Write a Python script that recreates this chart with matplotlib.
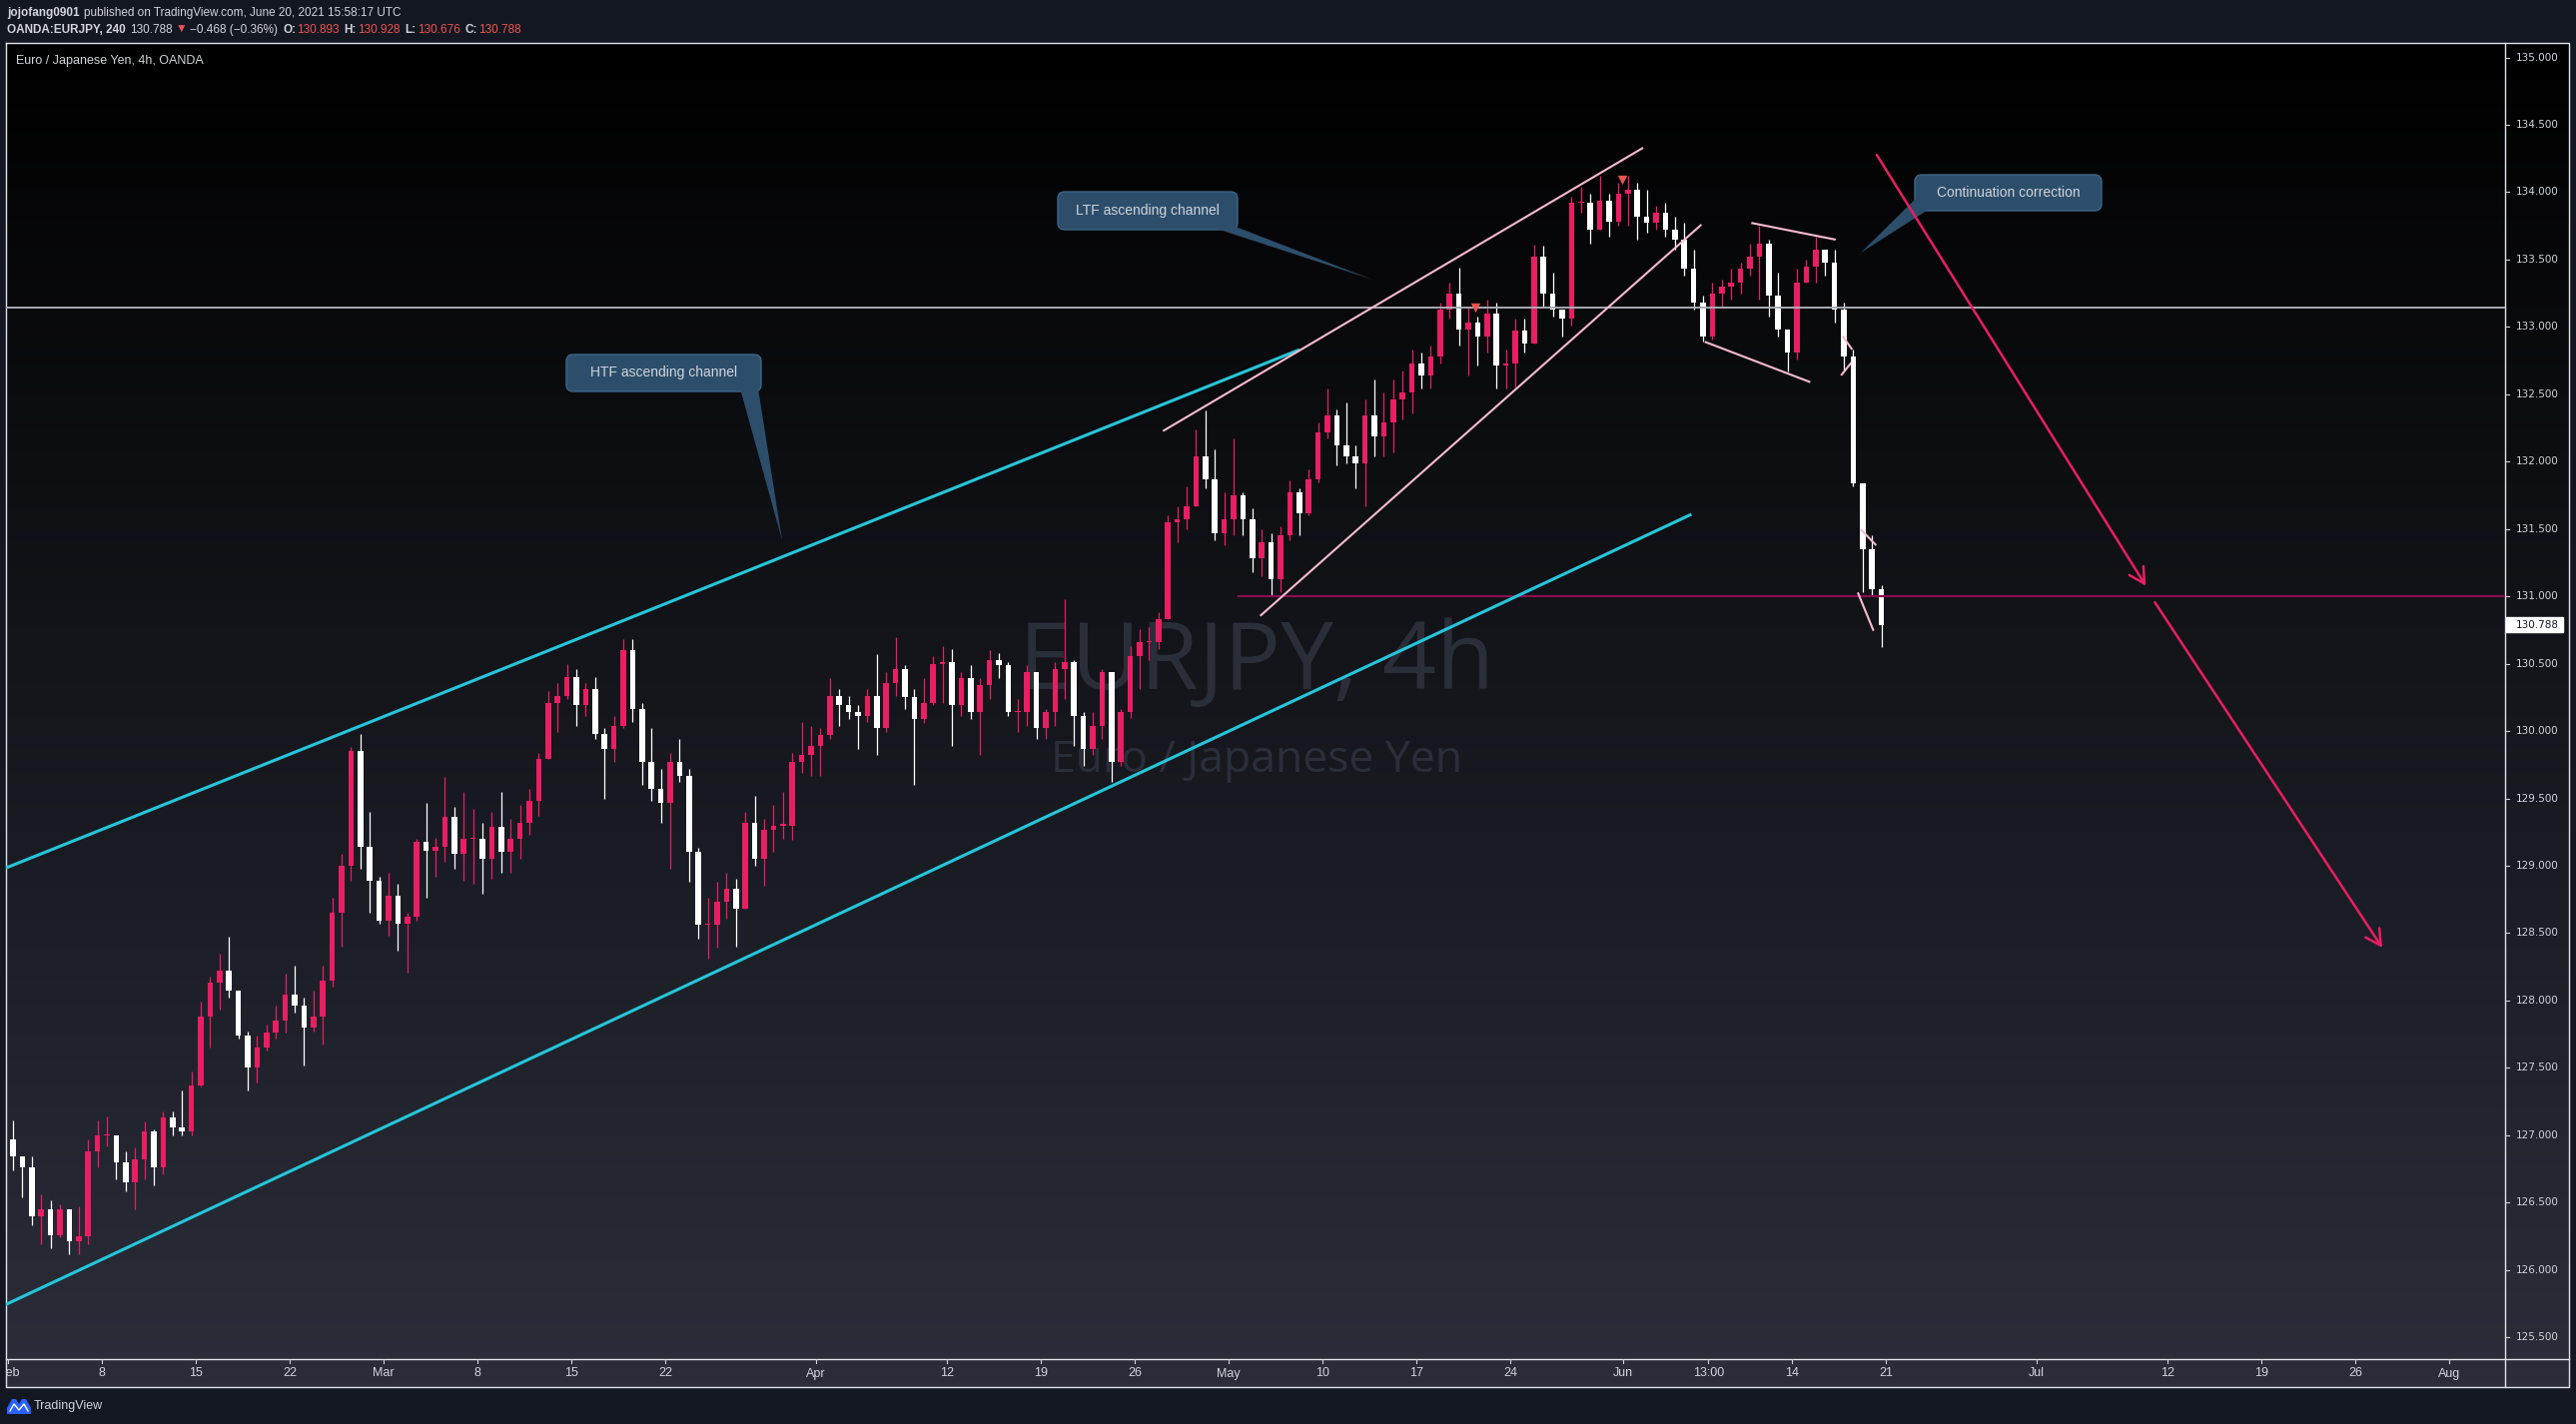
import numpy as np
import matplotlib
matplotlib.use("Agg")
import matplotlib.pyplot as plt
from matplotlib.patches import Polygon, FancyBboxPatch, Rectangle

W, H, DPI = 2579, 1426, 100

# EURJPY, 12h bars, Feb 1 - Jun 18 2021 (x axis = trading days since Feb 1)
first_open = 126.97
close = [
    126.84, 126.76, 126.40, 126.45, 126.26, 126.45, 126.21, 126.25, 126.88, 127.00,
    127.00, 126.80, 126.65, 126.82, 127.03, 126.76, 127.13, 127.06, 127.03, 127.37,
    127.88, 128.13, 128.22, 128.07, 127.74, 127.50, 127.65, 127.76, 127.85, 128.04,
    127.96, 127.80, 127.88, 128.15, 128.65, 129.00, 129.85, 129.14, 128.89, 128.59,
    128.78, 128.57, 128.62, 129.18, 129.11, 129.14, 129.36, 129.09, 129.20, 129.20,
    129.05, 129.29, 129.10, 129.20, 129.32, 129.48, 129.79, 130.21, 130.26, 130.40,
    130.19, 130.31, 129.98, 129.87, 130.04, 130.60, 130.16, 129.77, 129.57, 129.47,
    129.77, 129.67, 129.10, 128.56, 128.56, 128.73, 128.83, 128.68, 129.32, 129.05,
    129.27, 129.30, 129.30, 129.77, 129.82, 129.89, 129.97, 130.26, 130.19, 130.14,
    130.11, 130.26, 130.02, 130.36, 130.46, 130.25, 130.09, 130.21, 130.50, 130.51,
    130.19, 130.39, 130.14, 130.34, 130.53, 130.49, 130.14, 130.14, 130.44, 130.02,
    130.14, 130.46, 130.51, 130.11, 129.87, 130.04, 130.44, 129.77, 130.14, 130.56,
    130.66, 130.66, 130.83, 131.55, 131.57, 131.67, 132.04, 131.87, 131.47, 131.57,
    131.75, 131.57, 131.28, 131.40, 131.13, 131.45, 131.77, 131.62, 131.87, 132.22,
    132.34, 132.12, 132.04, 131.99, 132.34, 132.19, 132.29, 132.46, 132.51, 132.73,
    132.64, 132.78, 133.13, 133.25, 132.98, 133.03, 132.93, 133.10, 132.71, 132.73,
    132.97, 132.88, 133.52, 133.25, 133.13, 133.06, 133.92, 133.92, 133.72, 133.94,
    133.78, 133.99, 134.02, 133.82, 133.77, 133.85, 133.72, 133.65, 133.43, 133.18,
    132.93, 133.25, 133.30, 133.33, 133.43, 133.52, 133.62, 133.23, 132.98, 132.81,
    133.33, 133.45, 133.57, 133.48, 133.13, 132.78, 131.84, 131.35, 131.05, 130.79,
]
high = [
    127.11, 126.84, 126.84, 126.56, 126.52, 126.49, 126.45, 126.47, 126.97, 127.11,
    127.14, 127.00, 126.88, 126.91, 127.10, 127.04, 127.18, 127.18, 127.33, 127.47,
    127.99, 128.18, 128.35, 128.47, 128.07, 127.77, 127.74, 127.82, 127.96, 128.20,
    128.26, 128.02, 128.07, 128.26, 128.76, 129.09, 129.88, 129.98, 129.40, 128.92,
    128.95, 128.87, 128.65, 129.20, 129.47, 129.21, 129.66, 129.44, 129.55, 129.42,
    129.32, 129.40, 129.55, 129.35, 129.45, 129.57, 129.84, 130.30, 130.36, 130.50,
    130.46, 130.36, 130.40, 130.02, 130.11, 130.68, 130.68, 130.21, 130.02, 129.72,
    129.84, 129.94, 129.72, 129.13, 128.76, 128.88, 128.95, 128.90, 129.40, 129.52,
    129.35, 129.45, 129.55, 129.84, 130.07, 130.04, 130.02, 130.39, 130.31, 130.26,
    130.19, 130.31, 130.57, 130.44, 130.70, 130.49, 130.31, 130.39, 130.56, 130.63,
    130.61, 130.44, 130.49, 130.39, 130.60, 130.58, 130.51, 130.24, 130.49, 130.44,
    130.16, 130.51, 130.98, 130.53, 130.14, 130.14, 130.46, 130.44, 130.16, 130.63,
    130.76, 130.77, 130.88, 131.60, 131.67, 131.82, 132.24, 132.38, 132.09, 131.77,
    132.17, 131.77, 131.65, 131.50, 131.47, 131.52, 131.86, 131.80, 131.94, 132.29,
    132.54, 132.39, 132.44, 132.12, 132.46, 132.61, 132.51, 132.61, 132.68, 132.83,
    132.81, 132.86, 133.18, 133.33, 133.44, 133.15, 133.08, 133.20, 133.18, 132.83,
    133.06, 133.06, 133.61, 133.60, 133.40, 133.13, 133.97, 134.04, 133.99, 134.12,
    133.99, 134.07, 134.12, 134.07, 134.02, 133.90, 133.92, 133.82, 133.77, 133.57,
    133.23, 133.33, 133.35, 133.43, 133.48, 133.62, 133.75, 133.65, 133.40, 132.98,
    133.43, 133.50, 133.67, 133.57, 133.57, 133.18, 132.83, 131.84, 131.45, 131.08,
]
low = [
    126.74, 126.54, 126.33, 126.19, 126.16, 126.24, 126.12, 126.12, 126.19, 126.76,
    126.92, 126.67, 126.58, 126.45, 126.67, 126.63, 126.71, 127.00, 127.00, 127.00,
    127.36, 127.65, 127.93, 128.02, 127.72, 127.33, 127.39, 127.63, 127.72, 127.76,
    127.91, 127.52, 127.77, 127.67, 128.10, 128.40, 128.89, 128.98, 128.65, 128.57,
    128.48, 128.37, 128.21, 128.59, 128.76, 128.92, 129.03, 128.98, 128.89, 128.87,
    128.79, 128.90, 128.95, 128.95, 129.05, 129.23, 129.37, 129.79, 129.99, 130.24,
    130.04, 130.11, 129.94, 129.50, 129.77, 130.02, 130.07, 129.60, 129.48, 129.32,
    128.98, 129.62, 128.88, 128.46, 128.31, 128.39, 128.61, 128.40, 128.68, 129.00,
    128.85, 129.10, 129.20, 129.19, 129.69, 129.67, 129.67, 129.94, 130.04, 130.09,
    129.87, 130.07, 129.82, 129.99, 130.26, 130.16, 129.60, 130.06, 130.19, 130.21,
    129.89, 130.11, 130.09, 129.82, 130.24, 130.39, 130.11, 129.99, 130.04, 129.94,
    129.94, 130.04, 130.24, 129.89, 129.74, 129.82, 129.94, 129.62, 129.74, 130.10,
    130.31, 130.53, 130.61, 130.83, 131.40, 131.50, 131.67, 131.80, 131.42, 131.38,
    131.45, 131.45, 131.18, 131.15, 131.00, 131.03, 131.42, 131.45, 131.60, 131.85,
    132.17, 131.97, 131.99, 131.80, 131.67, 132.04, 132.04, 132.07, 132.31, 132.36,
    132.54, 132.54, 132.73, 133.06, 132.86, 132.64, 132.71, 132.81, 132.54, 132.54,
    132.56, 132.81, 132.88, 133.15, 133.08, 132.93, 133.01, 133.85, 133.62, 133.72,
    133.67, 133.75, 133.75, 133.65, 133.70, 133.72, 133.67, 133.57, 133.38, 133.13,
    132.89, 132.91, 133.15, 133.20, 133.25, 133.38, 133.20, 133.08, 132.93, 132.67,
    132.76, 133.33, 133.33, 133.38, 133.03, 132.68, 131.82, 131.03, 131.00, 130.62,
]

price_ticks = [125.5 + 0.5 * i for i in range(20)]
time_ticks = [0, 5, 10, 15, 20, 25, 30, 35, 43, 50, 55, 60, 65, 70, 75, 80,
              86, 90.54, 95, 100, 108, 115, 120, 125, 130]
time_labels = ["Feb", "8", "15", "22", "Mar", "8", "15", "22", "Apr", "12", "19", "26",
               "May", "10", "17", "24", "Jun", "13:00", "14", "21", "Jul", "12", "19", "26", "Aug"]

last_ohlc = [130.893, 130.928, 130.676, 130.788]
last_change = "\u22120.468 (\u22120.36%)"
gray_level = 133.14
support_level = 131.0
support_from = 65.5

# drawings: (trading day, price)
htf_upper = [(-0.5, 128.963), (68.76, 132.831)]
htf_lower = [(-0.5, 125.719), (89.63, 131.609)]
ltf_upper = [(61.49, 132.227), (87.06, 134.330)]
ltf_lower = [(66.67, 130.855), (90.16, 133.759)]
flag_lines = [
    [(92.82, 133.772), (97.31, 133.648)],
    [(90.34, 132.890), (95.96, 132.590)],
    [(97.69, 132.931), (98.19, 132.832)],
    [(97.60, 132.640), (98.14, 132.734)],
    [(98.64, 131.498), (99.47, 131.379)],
    [(98.49, 131.029), (99.33, 130.744)],
]
arrows = [
    [(99.5, 134.277), (113.83, 131.078)],
    [(114.31, 130.956), (126.42, 128.392)],
]
flag_marks_x = [78.12, 85.92]
flag_marks_y = [133.14, 134.09]

BG = "#131722"
TXT = "#d1d4dc"
UP = "#e91e63"
DOWN = "#ffffff"
CYAN = "#26c6da"
PINK = "#f8bbd0"
RED = "#ef5350"
FONT = ["Liberation Sans", "DejaVu Sans"]

fig = plt.figure(figsize=(W / DPI, H / DPI), dpi=DPI, facecolor=BG)


def rect(l, t, r, b):
    return [l / W, 1 - b / H, (r - l) / W, (b - t) / H]


# gradient background of the chart frame
bg = fig.add_axes(rect(6, 43, 2572, 1389), zorder=0)
grad = np.linspace(0, 1, 256)[:, None, None] * np.array([43, 46, 58]) / 255
bg.imshow(np.repeat(grad, 2, axis=1), aspect="auto", extent=(0, 1, 0, 1), origin="upper")
bg.set_axis_off()

# watermark
fig.text((1258) / W, 1 - 690 / H, "EURJPY, 4h", color="#2a2e39", fontsize=68,
         ha="center", va="baseline", family=["Open Sans", "DejaVu Sans"], zorder=1)
fig.text((1258) / W, 1 - 773 / H, "Euro / Japanese Yen", color="#2a2e39", fontsize=32,
         ha="center", va="baseline", family=["Open Sans", "DejaVu Sans"], zorder=1)

# main chart
ax = fig.add_axes(rect(6, 43, 2508, 1361), zorder=2)
ax.set_xlim(-0.12, 132.96)
ax.set_ylim(125.338, 135.108)
ax.set_axis_off()

c = np.array(close)
o = np.r_[first_open, c[:-1]]
x = 0.5 * np.arange(len(c)) + 0.25
col = np.where(c >= o, UP, DOWN)
ax.vlines(x, low, high, colors=col, lw=0.9, zorder=3)
ax.bar(x, np.maximum(np.abs(c - o), 0.008), bottom=np.minimum(o, c), width=0.3,
       color=col, linewidth=0, zorder=4)


def seg(pts, color, lw):
    (x0, y0), (x1, y1) = pts
    ax.plot([x0, x1], [y0, y1], color=color, lw=lw, solid_capstyle="butt", zorder=5)


ax.axhline(gray_level, color="#a8abb3", lw=1.4, zorder=5)
ax.plot([support_from, 140], [support_level, support_level], color="#880e4f", lw=1.6, zorder=5)
seg(htf_upper, CYAN, 2.2)
seg(htf_lower, CYAN, 2.2)
seg(ltf_upper, PINK, 1.5)
seg(ltf_lower, PINK, 1.5)
for f in flag_lines:
    seg(f, PINK, 1.5)
for a in arrows:
    ax.annotate("", xy=a[1], xytext=a[0],
                arrowprops=dict(arrowstyle="->,head_length=0.55,head_width=0.3", color=UP,
                                lw=1.8, mutation_scale=20, shrinkA=0, shrinkB=0), zorder=6)
ax.scatter(flag_marks_x, flag_marks_y, marker="v", s=45, color=RED, zorder=6, linewidths=0)

# price scale
pax = fig.add_axes(rect(2508, 43, 2572, 1361), zorder=2)
pax.set_xlim(0, 64)
pax.set_ylim(ax.get_ylim())
pax.set_axis_off()
for p in price_ticks:
    pax.plot([0, 4], [p, p], color=TXT, lw=0.8)
    pax.text(11, p, f"{p:.3f}", color=TXT, fontsize=7.5, va="center", ha="left",
             family="DejaVu Sans")
pax.add_patch(Rectangle((1, last_ohlc[3] - 0.055), 57, 0.11, color="white", zorder=3))
pax.text(11, last_ohlc[3], f"{last_ohlc[3]:.3f}", color=BG, fontsize=7.5, va="center",
         ha="left", family="DejaVu Sans", zorder=4)

# time scale
tax = fig.add_axes(rect(6, 1361, 2508, 1389), zorder=2)
tax.set_xlim(ax.get_xlim())
tax.set_ylim(28, 0)
tax.set_axis_off()
for t, lab in zip(time_ticks, time_labels):
    tax.plot([t, t], [0, 4], color=TXT, lw=0.8)
    tax.text(t, 14.5, lab, color=TXT, fontsize=9, ha="center", va="center",
             family=FONT, clip_on=True)

# overlay in pixel units: frame, header, callouts
ov = fig.add_axes([0, 0, 1, 1], zorder=1.5)
ov.set_xlim(0, W)
ov.set_ylim(H, 0)
ov.set_axis_off()

frame = "#e0e3eb"
ov.plot([6, 2572, 2572, 6, 6], [43, 43, 1389, 1389, 43], color=frame, lw=1.0)
ov.plot([2508, 2508], [43, 1389], color=frame, lw=1.0)
ov.plot([6, 2572], [1361, 1361], color=frame, lw=1.0)

renderer = fig.canvas.get_renderer()


def runs(x0, y0, parts, size):
    xx = x0
    for s, color, weight, gap in parts:
        t = ov.text(xx, y0, s, color=color, fontsize=size, fontweight=weight,
                    family=FONT, va="center", ha="left")
        xx += t.get_window_extent(renderer=renderer).width + gap


runs(7, 13, [("jojofang0901", TXT, "bold", 4),
             ("published on TradingView.com, June 20, 2021 15:58:17 UTC", TXT, "normal", 0)], 8.5)
runs(7, 30, [("OANDA:EURJPY, 240", TXT, "bold", 4),
             (f"{last_ohlc[3]:.3f}", TXT, "normal", 3),
             ("\u25bc", RED, "normal", 3),
             (last_change, TXT, "normal", 5),
             ("O:", TXT, "bold", 1), (f"{last_ohlc[0]:.3f}", RED, "normal", 5),
             ("H:", TXT, "bold", 1), (f"{last_ohlc[1]:.3f}", RED, "normal", 5),
             ("L:", TXT, "bold", 1), (f"{last_ohlc[2]:.3f}", RED, "normal", 5),
             ("C:", TXT, "bold", 1), (f"{last_ohlc[3]:.3f}", RED, "normal", 0)], 8.5)
ov.text(16, 61, "Euro / Japanese Yen, 4h, OANDA", color=TXT, fontsize=9, va="center",
        ha="left", family=FONT)

CALL_FC = "#2c4e6b"
CALL_EC = "#3d6688"
callouts = [
    ("HTF ascending channel", (567, 355, 762, 392), [(741, 389), (759, 389), (783, 541)]),
    ("LTF ascending channel", (1059, 192, 1239, 230), [(1212, 227), (1237, 227), (1374, 280)]),
    ("Continuation correction", (1917, 175, 2104, 211), [(1920, 197), (1932, 209), (1863, 253)]),
]
for label, (l, t, r, b), wedge in callouts:
    ov.add_patch(FancyBboxPatch((l, t), r - l, b - t, boxstyle="round,pad=0,rounding_size=7",
                                facecolor=CALL_FC, edgecolor=CALL_EC, lw=1.0, zorder=6))
    ov.add_patch(Polygon(wedge, closed=True, facecolor=CALL_FC, edgecolor="none", zorder=7))
    ov.text((l + r) / 2, (t + b) / 2, label, color=TXT, fontsize=10, ha="center",
            va="center", family=FONT, zorder=8)

# TradingView logo
ov.add_patch(Polygon([(7, 1416), (7, 1410), (12, 1401), (16, 1401), (19, 1406), (22, 1401),
                      (26, 1401), (31, 1410), (31, 1416)], closed=True, facecolor="#2962ff",
                     edgecolor="none"))
ov.plot([10, 14, 19, 24, 28], [1413, 1406, 1412, 1406, 1413], color="white", lw=1.0)
ov.text(34, 1408, "TradingView", color=TXT, fontsize=9, va="center", ha="left", family=FONT)

fig.savefig("out.png", dpi=DPI, facecolor=BG)
